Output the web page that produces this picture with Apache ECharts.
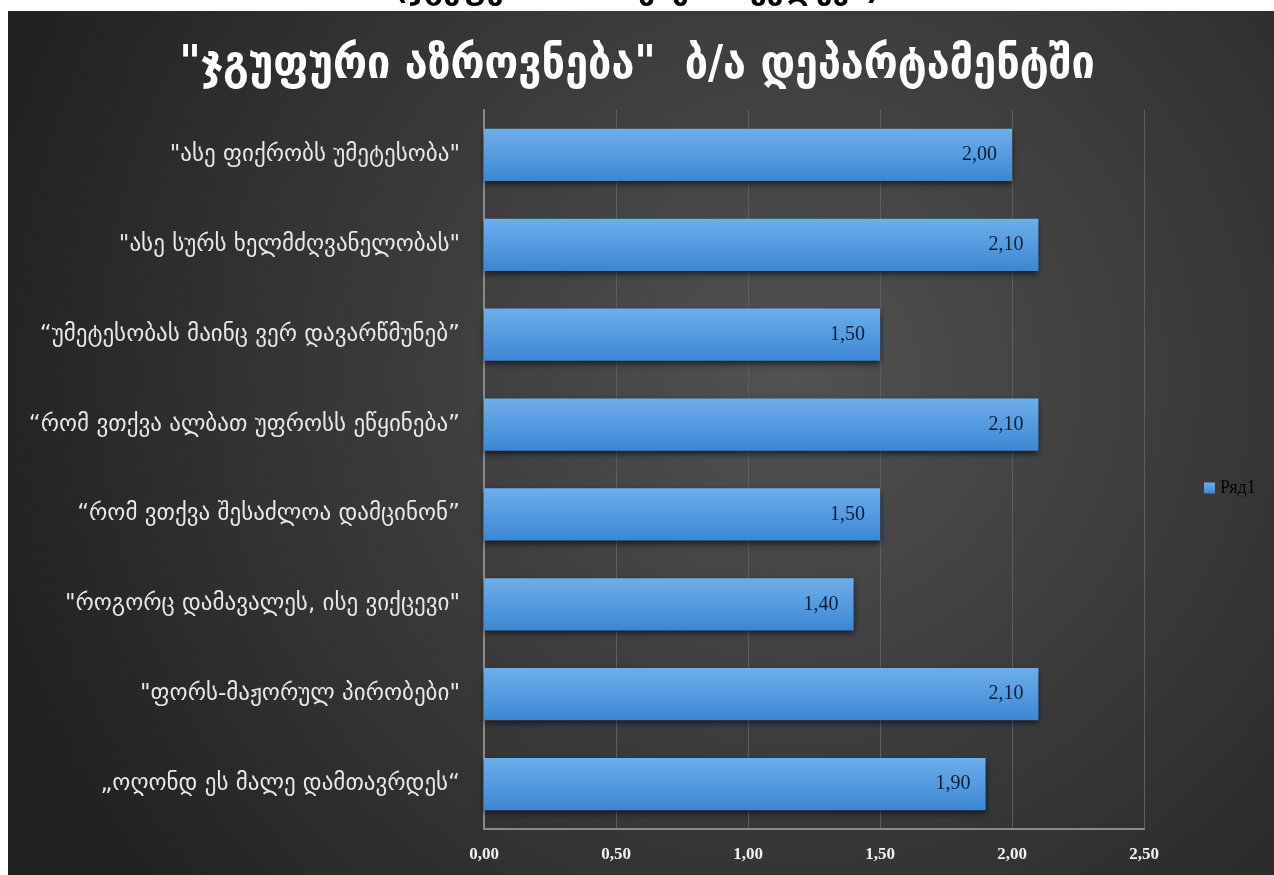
<!DOCTYPE html>
<html>
<head>
<meta charset="utf-8">
<script src="https://cdn.jsdelivr.net/npm/echarts@6/dist/echarts.min.js"></script>
<style>
  html, body { margin: 0; padding: 0; background: #fff; }
  #chart { width: 1274px; height: 875px; }
</style>
</head>
<body>
<div id="chart"></div>
<script>
// კატეგორიები და მნიშვნელობები
const categories = [
  '"ასე ფიქრობს უმეტესობა"',
  '"ასე სურს ხელმძღვანელობას"',
  '“უმეტესობას მაინც ვერ დავარწმუნებ”',
  '“რომ ვთქვა ალბათ უფროსს ეწყინება”',
  '“რომ ვთქვა შესაძლოა დამცინონ”',
  '"როგორც დამავალეს, ისე ვიქცევი"',
  '"ფორს-მაჟორულ პირობები"',
  '„ოღონდ ეს მალე დამთავრდეს“'
]
const values = [2.00, 2.10, 1.50, 2.10, 1.50, 1.40, 2.10, 1.90]
const seriesName = 'Ряд1'
const titleText = '"ჯგუფური აზროვნება"  ბ/ა დეპარტამენტში'
const topText = '(ჯგუფური აზროვნების კვლევა)'

const fmt = v => v.toFixed(2).replace('.', ',')

let myChart = echarts.init(document.getElementById('chart'))
let option = {
  backgroundColor: '#fff',
  animation: false,
  title: {
    text: titleText,
    left: 'center',
    top: 38,
    textStyle: {
      color: '#fff',
      fontSize: 46,
      fontWeight: 'bold',
      fontFamily: 'DejaVu Sans Condensed'
    }
  },
  graphic: [
    {
      type: 'text',
      z: -3,
      left: 'center',
      top: -24,
      style: {
        text: topText,
        fill: '#000',
        font: 'bold 30px "DejaVu Sans"'
      }
    },
    {
      type: 'rect',
      z: -2,
      shape: { x: 8, y: 11, width: 1266, height: 864 },
      style: {
        fill: {
          type: 'radial',
          x: 0.62,
          y: 0.42,
          r: 0.95,
          colorStops: [
            { offset: 0, color: '#525252' },
            { offset: 1, color: '#222222' }
          ]
        }
      }
    }
  ],
  legend: {
    show: true,
    data: [seriesName],
    left: 1199,
    top: 474,
    icon: 'rect',
    itemWidth: 11,
    itemHeight: 11,
    itemGap: 4,
    textStyle: {
      color: '#050505',
      fontSize: 18,
      fontFamily: 'Liberation Serif'
    }
  },
  grid: {
    left: 484,
    right: 130,
    top: 110,
    bottom: 46,
    containLabel: false
  },
  xAxis: {
    type: 'value',
    min: 0,
    max: 2.5,
    interval: 0.5,
    axisLabel: {
      color: '#f2f2f2',
      fontSize: 17,
      fontWeight: 'bold',
      fontFamily: 'Liberation Serif',
      margin: 17,
      formatter: v => fmt(v)
    },
    axisTick: { show: false },
    axisLine: {
      show: true,
      lineStyle: { color: '#8a8a8a', width: 2 }
    },
    splitLine: {
      show: true,
      lineStyle: { color: '#5e5e5e', width: 1 }
    }
  },
  yAxis: {
    type: 'category',
    inverse: true,
    data: categories,
    axisTick: { show: false },
    axisLine: {
      show: true,
      lineStyle: { color: '#8a8a8a', width: 2 }
    },
    axisLabel: {
      color: '#e8e8e8',
      fontSize: 23,
      fontFamily: 'DejaVu Sans',
      margin: 24
    }
  },
  series: [
    {
      name: seriesName,
      type: 'bar',
      data: values,
      barCategoryGap: '42%',
      itemStyle: {
        color: new echarts.graphic.LinearGradient(0, 0, 0, 1, [
          { offset: 0, color: '#6daeea' },
          { offset: 0.5, color: '#559be0' },
          { offset: 1, color: '#3c86d2' }
        ]),
        shadowColor: 'rgba(0,0,0,0.6)',
        shadowBlur: 6,
        shadowOffsetY: 3
      },
      label: {
        show: true,
        position: 'insideRight',
        distance: 15,
        color: '#0f1c36',
        fontSize: 20,
        fontFamily: 'Liberation Serif',
        formatter: p => fmt(p.value)
      }
    }
  ]
}
myChart.setOption(option, true)
</script>
</body>
</html>
